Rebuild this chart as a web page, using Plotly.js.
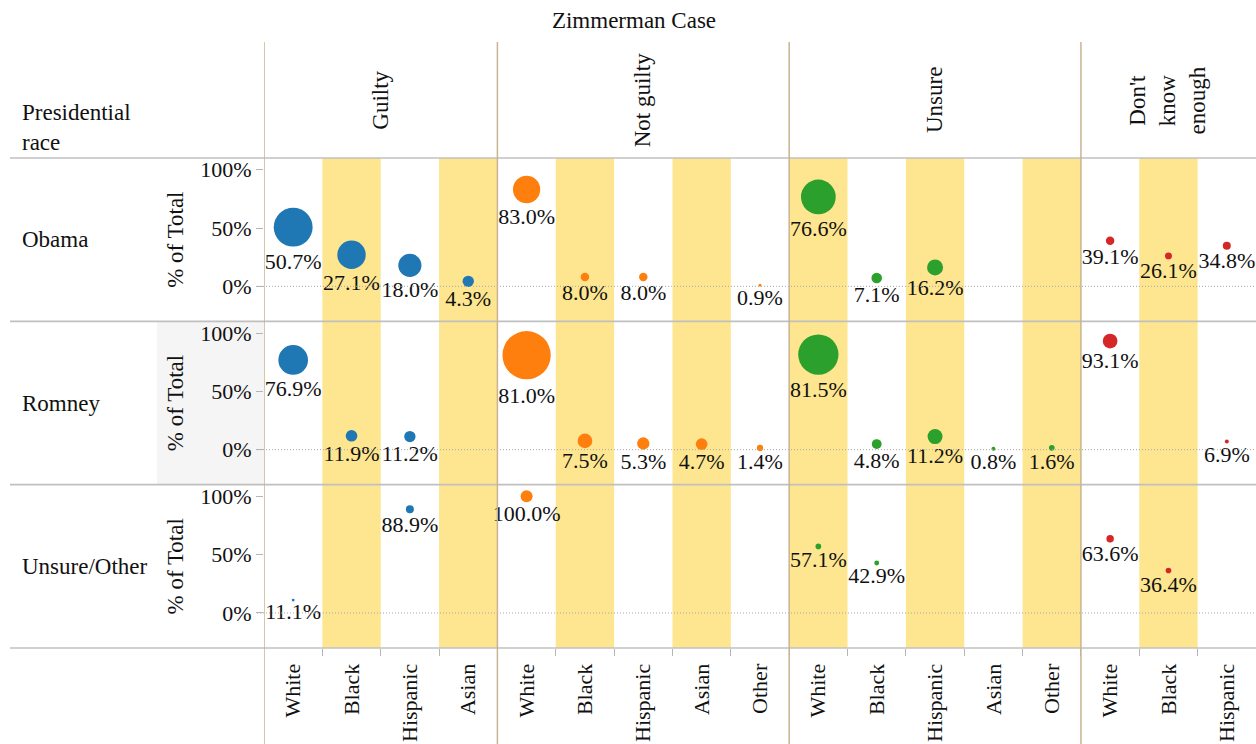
<!DOCTYPE html>
<html>
<head>
<meta charset="utf-8">
<script src="https://cdn.plot.ly/plotly-3.0.1.min.js"></script>
<style>html,body{margin:0;padding:0;background:#fff;}#chart{width:1256px;height:744px;}</style>
</head>
<body>
<div id="chart"></div>
<script>
// ---- data ----
const chartTitle = 'Zimmerman Case';
const races = ['Obama', 'Romney', 'Unsure/Other'];
const verdicts = ['Guilty', 'Not guilty', 'Unsure', "Don't<br>know<br>enough"];
const ethnicities = [
  ['White', 'Black', 'Hispanic', 'Asian'],
  ['White', 'Black', 'Hispanic', 'Asian', 'Other'],
  ['White', 'Black', 'Hispanic', 'Asian', 'Other'],
  ['White', 'Black', 'Hispanic']
];
// % of total (per race x verdict), null = no respondents
const pctObama = [
  [50.7, 27.1, 18.0, 4.3],
  [83.0, 8.0, 8.0, null, 0.9],
  [76.6, 7.1, 16.2, null, null],
  [39.1, 26.1, 34.8]
];
const pctRomney = [
  [76.9, 11.9, 11.2, null],
  [81.0, 7.5, 5.3, 4.7, 1.4],
  [81.5, 4.8, 11.2, 0.8, 1.6],
  [93.1, null, 6.9]
];
const pctUnsureOther = [
  [11.1, null, 88.9, null],
  [100.0, null, null, null, null],
  [57.1, 42.9, null, null, null],
  [63.6, 36.4, null]
];
// respondent counts (bubble size), estimated
const nObama = [
  [189, 101, 67, 16],
  [93, 9, 9, null, 1],
  [151, 14, 32, null, null],
  [9, 6, 8]
];
const nRomney = [
  [110, 17, 16, null],
  [291, 27, 19, 17, 5],
  [203, 12, 28, 2, 4],
  [27, null, 2]
];
const nUnsureOther = [
  [1, null, 8, null],
  [18, null, null, null, null],
  [4, 3, null, null, null],
  [7, 4, null]
];
const yTickVals = [0, 50, 100];
const yTickText = ['0%', '50%', '100%'];

// ---- styles ----
const FONT = 'Liberation Serif';
const colors = ['#1f77b4', '#ff7f0e', '#2ca02c', '#d62728'];
const bandColor = '#fde68f';
const sepColor = '#c8b392';
const rowLineColor = '#c0c0c0';

const pctRows = [pctObama, pctRomney, pctUnsureOther];
const nRows = [nObama, nRomney, nUnsureOther];
const yNames = ['y', 'y2', 'y3'];

// global column positions
const offsets = [];
let acc = 0;
ethnicities.forEach(e => { offsets.push(acc); acc += e.length; });
const nCols = acc;
const tickVals = [], tickText = [];
ethnicities.forEach((e, v) => e.forEach((name, i) => { tickVals.push(offsets[v] + i); tickText.push(name); }));

const traces = [];
for (let r = 0; r < races.length; r++) {
  for (let v = 0; v < verdicts.length; v++) {
    const xs = [], ys = [], ss = [], ts = [];
    ethnicities[v].forEach((name, i) => {
      const p = pctRows[r][v][i];
      if (p === null || p === undefined) return;
      xs.push(offsets[v] + i);
      ys.push(p);
      ss.push(nRows[r][v][i]);
      ts.push(p.toFixed(1) + '%');
    });
    traces.push({
      type: 'scatter', mode: 'markers+text',
      x: xs, y: ys, text: ts,
      xaxis: 'x', yaxis: yNames[r],
      textposition: 'bottom center',
      textfont: {family: FONT, size: 22, color: '#111'},
      marker: {color: colors[v], opacity: 1, size: ss, sizemode: 'area', sizeref: 0.25, line: {width: 0}},
      cliponaxis: false, showlegend: false, hoverinfo: 'skip'
    });
  }
}

const shapes = [];
// alternating bands
for (let i = 1; i < nCols; i += 2) {
  shapes.push({type: 'rect', xref: 'x', yref: 'paper', x0: i - 0.5, x1: i + 0.5, y0: 0, y1: 1,
    fillcolor: bandColor, line: {width: 0}, layer: 'below'});
}
// highlighted axis cell (Romney)
shapes.push({type: 'rect', xref: 'paper', yref: 'paper', x0: -107 / 992, x1: 0, y0: 1 / 3, y1: 2 / 3,
  fillcolor: '#f5f5f5', line: {width: 0}, layer: 'below'});
// zero dotted lines
yNames.forEach(yn => {
  shapes.push({type: 'line', xref: 'paper', yref: yn, x0: -7 / 992, x1: 1, y0: 0, y1: 0,
    line: {color: '#a8a8a8', width: 1, dash: '1px,2px'}});
});
// row separators
[0, 1 / 3, 2 / 3, 1].forEach(y => {
  shapes.push({type: 'line', xref: 'paper', yref: 'paper', x0: -254 / 992, x1: 1, y0: y, y1: y,
    line: {color: rowLineColor, width: 1.6}});
});
// facet separators
[-0.5].concat(offsets.slice(1).map(o => o - 0.5)).forEach(x => {
  shapes.push({type: 'line', xref: 'x', yref: 'paper', x0: x, x1: x, y0: -96 / 490, y1: 1 + 116 / 490,
    line: {color: sepColor, width: 1.5}});
});

const annotations = [];
verdicts.forEach((v, k) => {
  annotations.push({text: v, xref: 'x', yref: 'paper', x: offsets[k] + (ethnicities[k].length - 1) / 2,
    y: 1 + 58 / 490, textangle: -90, showarrow: false, xanchor: 'center', yanchor: 'middle',
    font: {family: FONT, size: 23, color: '#111'}});
});
races.forEach((r, k) => {
  annotations.push({text: r, xref: 'paper', yref: yNames[k] + ' domain', x: -244 / 992, y: 0.5,
    xanchor: 'left', yanchor: 'middle', showarrow: false, font: {family: FONT, size: 23, color: '#111'}});
});
annotations.push({text: 'Presidential<br>race', xref: 'paper', yref: 'paper', x: -244 / 992, y: 1 + 30 / 490,
  xanchor: 'left', yanchor: 'middle', align: 'left', showarrow: false, font: {family: FONT, size: 23, color: '#111'}});

function yAxis(domain) {
  return {domain: domain, anchor: 'x', range: [-30, 110], tickvals: yTickVals, ticktext: yTickText,
    ticks: 'outside', ticklen: 7, tickcolor: '#b5b5b5', showgrid: false, zeroline: false, showline: false,
    tickfont: {family: FONT, size: 22, color: '#111'},
    title: {text: '% of Total', font: {family: FONT, size: 23, color: '#111'}, standoff: 10}, fixedrange: true};
}

const layout = {
  width: 1256, height: 744,
  margin: {l: 264, r: 0, t: 158, b: 96, pad: 0},
  paper_bgcolor: '#fff', plot_bgcolor: 'rgba(0,0,0,0)',
  font: {family: FONT, color: '#111'},
  title: {text: chartTitle, font: {family: FONT, size: 23, color: '#111'}, xref: 'container', yref: 'container',
    x: 634 / 1256, y: 1 - 20 / 744, xanchor: 'center', yanchor: 'middle'},
  xaxis: {anchor: 'y3', range: [-0.5, nCols - 0.5], tickvals: tickVals, ticktext: tickText, tickangle: -90,
    ticks: 'outside', ticklen: 6, tickcolor: 'rgba(0,0,0,0)', showgrid: false, zeroline: false, showline: false,
    tickfont: {family: FONT, size: 22, color: '#111'}, fixedrange: true},
  xaxis2: {overlaying: 'x', anchor: 'y3', side: 'bottom', range: [-0.5, nCols - 0.5],
    tickvals: tickVals.slice(1).map(t => t - 0.5), ticks: 'outside', ticklen: 7, tickcolor: '#b5b5b5',
    showticklabels: false, showgrid: false, zeroline: false, showline: false, fixedrange: true},
  yaxis: yAxis([2 / 3, 1]),
  yaxis2: yAxis([1 / 3, 2 / 3]),
  yaxis3: yAxis([0, 1 / 3]),
  shapes: shapes,
  annotations: annotations,
  showlegend: false
};
// dummy trace to activate xaxis2
traces.push({type: 'scatter', x: [0], y: [null], xaxis: 'x2', yaxis: 'y3', showlegend: false, hoverinfo: 'skip'});

Plotly.newPlot('chart', traces, layout, {displayModeBar: false, staticPlot: true});
</script>
</body>
</html>
